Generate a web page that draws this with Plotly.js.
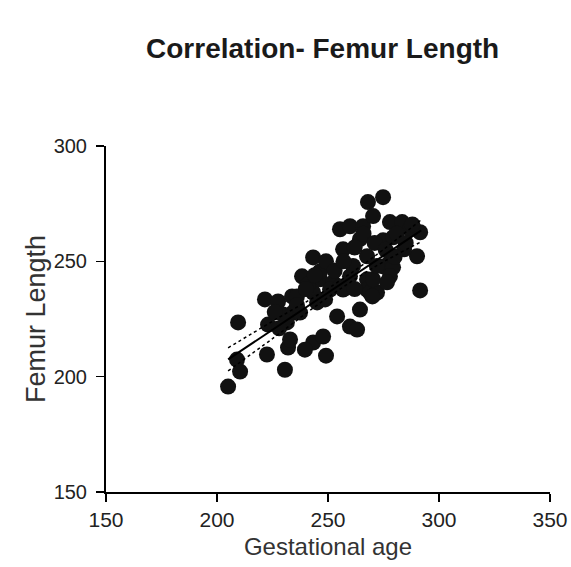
<!DOCTYPE html>
<html>
<head>
<meta charset="utf-8">
<script src="https://cdn.plot.ly/plotly-3.0.1.min.js"></script>
<style>html,body{margin:0;padding:0;background:#fff;}#chart{width:571px;height:567px;}</style>
</head>
<body>
<div id="chart"></div>
<script>
// Scatter data
var gestationalAge = [205.0,209.0,210.4,209.5,222.5,221.6,227.5,223.0,229.7,230.6,232.0,232.9,233.8,234.2,231.5,236.0,237.4,238.3,243.3,243.3,245.1,243.3,247.8,249.1,246.4,252.3,250.9,255.4,256.8,255.4,259.9,254.1,259.9,263.1,259.9,264.4,267.6,267.6,267.6,268.9,272.1,265.8,268.0,274.8,270.3,274.8,277.9,283.4,279.3,287.0,291.5,290.1,277.9,274.8,279.3,277.9,270.3,276.6,291.5,256.8,264.4,284.3,246.4,249.1,241.0,248.7,239.6,261.3,262.0,266.0,271.0,276.0,281.0,285.0,288.0,253.0,244.0,240.0,257.0,236.0,226.0,228.0,272.0,280.0,262.0,270.0];
var femurLength    = [195.7,207.4,202.2,223.5,209.6,233.5,232.6,222.6,227.0,203.0,212.6,216.1,234.8,227.8,223.5,234.8,227.8,243.5,251.7,236.5,232.2,214.8,217.4,209.1,242.2,240.9,237.8,239.1,255.2,263.9,265.2,226.1,221.7,220.4,243.5,259.6,252.2,242.2,237.8,236.5,236.5,265.2,275.7,277.8,269.6,259.1,267.0,267.0,260.4,263.9,262.6,252.2,249.6,247.8,247.4,243.5,242.2,240.9,237.4,237.8,229.1,255.2,245.6,250.0,240.0,233.5,211.7,248.0,256.0,262.0,258.0,255.0,262.0,258.0,266.0,246.0,244.0,238.0,250.0,231.0,228.0,221.0,248.0,252.0,238.0,234.8];

// Regression line and confidence band
var fitX      = [205, 225, 248, 270, 292];
var fitY      = [207.5, 220.4, 235.1, 249.3, 263.4];
var bandUpper = [212.5, 224.0, 237.0, 251.5, 268.0];
var bandLower = [202.5, 216.5, 233.0, 247.0, 258.5];

var xTicks = [150, 200, 250, 300, 350];
var yTicks = [150, 200, 250, 300];

var traces = [
  {x: gestationalAge, y: femurLength, mode: 'markers', type: 'scatter',
   marker: {size: 16, color: '#111111'}, hoverinfo: 'skip'},
  {x: fitX, y: fitY, mode: 'lines', type: 'scatter', line: {color: '#000', width: 2}, hoverinfo: 'skip'},
  {x: fitX, y: bandUpper, mode: 'lines', type: 'scatter', line: {color: '#000', width: 1.5, dash: 'dot', shape: 'spline'}, hoverinfo: 'skip'},
  {x: fitX, y: bandLower, mode: 'lines', type: 'scatter', line: {color: '#000', width: 1.5, dash: 'dot', shape: 'spline'}, hoverinfo: 'skip'}
];

var layout = {
  width: 571, height: 567,
  margin: {l: 106, r: 21, t: 146, b: 75},
  paper_bgcolor: '#fff', plot_bgcolor: '#fff',
  showlegend: false,
  font: {family: '"Liberation Sans", Arial, sans-serif', color: '#222'},
  title: {text: '<b>Correlation- Femur Length</b>', x: 0.565, xanchor: 'center', y: 0.915, yanchor: 'middle',
          font: {size: 28, color: '#1a1a1a'}},
  xaxis: {
    range: [150, 350], tickvals: xTicks, ticktext: xTicks.map(String),
    showgrid: false, zeroline: false, showline: true, linecolor: '#000', linewidth: 2,
    ticks: 'outside', ticklen: 8, tickwidth: 1.5, tickcolor: '#000',
    tickfont: {size: 21, color: '#222'},
    title: {text: 'Gestational age', font: {size: 24, color: '#333'}, standoff: 8}
  },
  yaxis: {
    range: [150, 300], tickvals: yTicks, ticktext: yTicks.map(String),
    showgrid: false, zeroline: false, showline: true, linecolor: '#000', linewidth: 2,
    ticks: 'outside', ticklen: 8, tickwidth: 1.5, tickcolor: '#000',
    ticklabelstandoff: 5,
    tickfont: {size: 20, color: '#222'},
    title: {text: 'Femur Length', font: {size: 27, color: '#333'}, standoff: 0}
  }
};

Plotly.newPlot('chart', traces, layout, {displayModeBar: false, staticPlot: true});
</script>
</body>
</html>
